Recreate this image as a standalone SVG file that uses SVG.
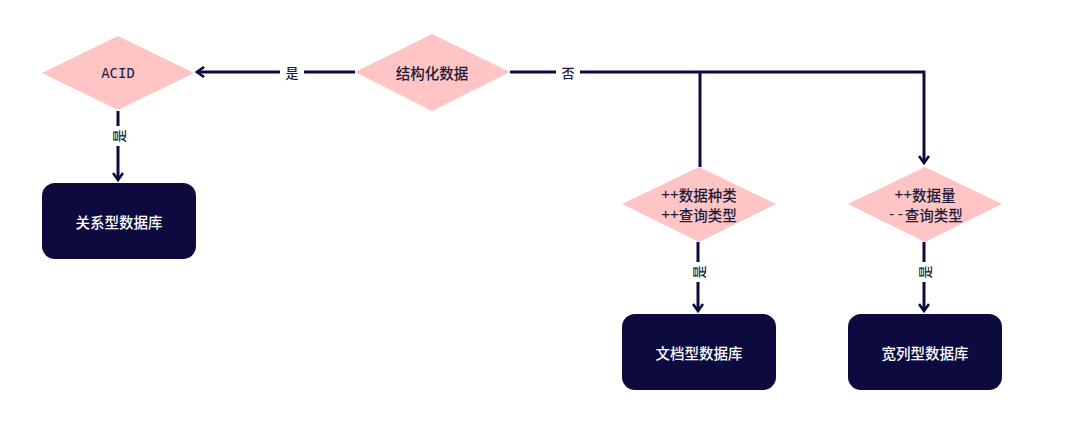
<svg xmlns="http://www.w3.org/2000/svg" width="1080" height="432" viewBox="0 0 1080 432">
<style>
.dia{fill:#ffc4c4;}
.box{fill:#0c0a3e;}
.t{font-family:"Noto Sans CJK SC","Noto Sans",sans-serif;font-size:14.5px;font-weight:500;fill:#1c1a3a;text-anchor:middle;dominant-baseline:central;}
.mono{font-family:"DejaVu Sans Mono","Liberation Mono",monospace;font-size:14px;}
.pm{font-family:"DejaVu Sans Mono","Liberation Mono",monospace;}
.w{font-family:"Noto Sans CJK SC","Noto Sans",sans-serif;font-size:14.5px;font-weight:500;fill:#ffffff;text-anchor:middle;dominant-baseline:central;}
.ln{fill:none;stroke:#0c0a3e;stroke-width:3;}
.lab{font-family:"Noto Sans CJK SC","Noto Sans",sans-serif;font-size:13px;font-weight:500;fill:#1c1a3a;text-anchor:middle;dominant-baseline:central;}
.bg{fill:#ffffff;}
</style>
<defs>
<marker id="arr" viewBox="0 0 12 12" refX="10" refY="6" markerWidth="12" markerHeight="12" markerUnits="userSpaceOnUse" orient="auto">
<path d="M3,1 L10,6 L3,11" fill="none" stroke="#0c0a3e" stroke-width="2.6"/>
</marker>
</defs>
<rect width="1080" height="432" fill="#ffffff"/>
<g id="connectors">
<path class="ln" d="M355,72 L197,72" marker-end="url(#arr)"/>
<rect class="bg" x="280" y="62" width="24" height="20"/>
<text class="lab" x="292" y="72">是</text>
<path class="ln" d="M510,72 L924,72 L924,163" marker-end="url(#arr)"/>
<path class="ln" d="M700,72 L700,167"/>
<rect class="bg" x="556" y="62" width="24" height="20"/>
<text class="lab" x="568" y="72">否</text>
<path class="ln" d="M118,111 L118,180" marker-end="url(#arr)"/>
<rect class="bg" x="108" y="126" width="20" height="20"/>
<text class="lab" x="118" y="136" transform="rotate(-90 118 136)">是</text>
<path class="ln" d="M698,242 L698,311" marker-end="url(#arr)"/>
<rect class="bg" x="688" y="262" width="20" height="20"/>
<text class="lab" x="698" y="272" transform="rotate(-90 698 272)">是</text>
<path class="ln" d="M924,242 L924,311" marker-end="url(#arr)"/>
<rect class="bg" x="914" y="262" width="20" height="20"/>
<text class="lab" x="924" y="272" transform="rotate(-90 924 272)">是</text>
</g>
<g id="acid">
<polygon class="dia" points="118,36 194,73 118,110 42,73"/>
<text class="t mono" x="118" y="73">ACID</text>
</g>
<g id="structured">
<polygon class="dia" points="432,34 510,72 432,111 355,72"/>
<text class="t" x="432" y="72">结构化数据</text>
</g>
<g id="doc-cond">
<polygon class="dia" points="699,167 776,204 699,242 622,204"/>
<text class="t" x="699" y="194"><tspan class="pm">++</tspan>数据种类</text>
<text class="t" x="699" y="214"><tspan class="pm">++</tspan>查询类型</text>
</g>
<g id="wide-cond">
<polygon class="dia" points="925,167 1002,204 925,242 848,204"/>
<text class="t" x="925" y="194"><tspan class="pm">++</tspan>数据量</text>
<text class="t" x="925" y="214"><tspan class="pm">--</tspan>查询类型</text>
</g>
<g id="relational">
<rect class="box" x="42" y="183" width="154" height="76" rx="13"/>
<text class="w" x="119" y="221">关系型数据库</text>
</g>
<g id="document">
<rect class="box" x="622" y="314" width="154" height="76" rx="13"/>
<text class="w" x="699" y="352">文档型数据库</text>
</g>
<g id="widecolumn">
<rect class="box" x="848" y="314" width="154" height="76" rx="13"/>
<text class="w" x="925" y="352">宽列型数据库</text>
</g>
</svg>
